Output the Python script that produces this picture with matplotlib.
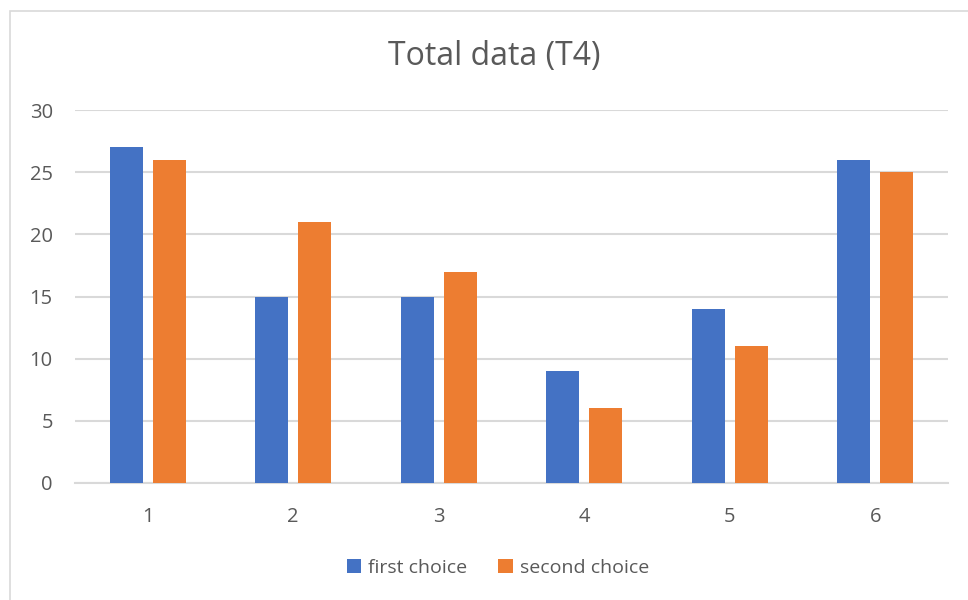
import matplotlib.pyplot as plt
import numpy as np
from matplotlib.patches import Rectangle

plt.rcParams['font.family'] = ['Open Sans', 'DejaVu Sans']

categories = ['1', '2', '3', '4', '5', '6']
first_choice = [27, 15, 15, 9, 14, 26]
second_choice = [26, 21, 17, 6, 11, 25]

blue = '#4472C4'
orange = '#ED7D31'
grid_grey = '#D9D9D9'
text_grey = '#595959'

fig = plt.figure(figsize=(9.68, 6.0), dpi=100)

# chart frame, only left/top edges are visible in the crop
fig.patches.append(Rectangle((10 / 968, -0.1), 1.2, (1 - 11 / 600) + 0.1,
                             transform=fig.transFigure, fill=False,
                             edgecolor=grid_grey, linewidth=1.2))

ax = fig.add_axes([75 / 968, 1 - 483 / 600, 873 / 968, 373 / 600])
x = np.arange(len(categories))
w = 0.226
ax.bar(x - 0.147, first_choice, w, color=blue, label='first choice', zorder=3)
ax.bar(x + 0.147, second_choice, w, color=orange, label='second choice', zorder=3)

ax.set_xlim(-0.5, 5.5)
ax.set_ylim(0, 30)
ax.set_yticks(range(0, 31, 5))
ax.set_xticks(x)
ax.set_xticklabels(categories)
ax.yaxis.grid(True, color=grid_grey, linewidth=1.5, zorder=0)
ax.set_axisbelow(True)
for s in ['top', 'right', 'left']:
    ax.spines[s].set_visible(False)
ax.spines['bottom'].set_color(grid_grey)
ax.spines['bottom'].set_linewidth(1.5)
ax.tick_params(length=0, labelsize=14.5, colors=text_grey)
ax.tick_params(axis='y', pad=16)
ax.tick_params(axis='x', pad=17)

fig.text(494 / 968, 1 - 57 / 600, 'Total data (T4)', ha='center', va='center',
         fontsize=23, color=text_grey)

fig.legend(loc='center', bbox_to_anchor=(498 / 968, 1 - 568 / 600), ncol=2,
           frameon=False, fontsize=14, labelcolor=text_grey,
           handlelength=0.75, handleheight=0.75, handletextpad=0.35,
           columnspacing=1.6)

fig.savefig('out.png', dpi=100)
